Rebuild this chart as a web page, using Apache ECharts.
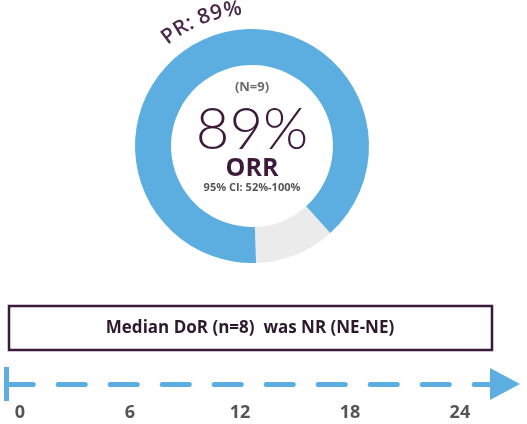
<!DOCTYPE html><html><head><meta charset="utf-8"><script src="https://cdn.jsdelivr.net/npm/echarts@6/dist/echarts.min.js"></script></head><body style="margin:0;background:#fff"><div id="c" style="width:527px;height:424px"></div><script>
var sliceNames=['Not responding','PR'];
var sliceValues=[1,8];
var prLabel='PR: 89%';
var timeTicks=[0,6,12,18,24];
var ch=echarts.init(document.getElementById('c'));
var cx=252,cy=146,R=127;
var font='600 21px "Open Sans"';
var ctx=document.createElement('canvas').getContext('2d');ctx.font=font;
var chars=prLabel.split('');
var total=ctx.measureText(prLabel).width;
var startA=-40*Math.PI/180, span=total/R;
var acc=0,arcChars=[];
chars.forEach(function(c){var w=ctx.measureText(c).width;var a=startA+(acc+w/2)/R;acc+=w;
arcChars.push({type:'text',x:cx+R*Math.sin(a),y:cy-R*Math.cos(a),rotation:-a,style:{text:c,font:font,fill:'#4a2a4a',align:'center',verticalAlign:'bottom'}});});
var P='#3b1a3b',B='#5daee0';
ch.setOption({animation:false,
graphic:arcChars.concat([
{type:'text',x:cx,y:87,style:{text:'(N=9)',font:'bold 13px "Open Sans"',fill:'#6b6b6b',align:'center',verticalAlign:'middle'}},
{type:'text',x:cx,y:130,style:{text:'89%',font:'300 58px Lato',fill:P,align:'center',verticalAlign:'middle'}},
{type:'text',x:cx,y:169,style:{text:'ORR',font:'bold 25px "Open Sans"',fill:P,align:'center',verticalAlign:'middle'}},
{type:'text',x:cx,y:188,style:{text:'95% CI: 52%-100%',font:'bold 11px "Open Sans"',fill:'#555',align:'center',verticalAlign:'middle'}},
{type:'rect',shape:{x:9,y:306,width:483,height:44},style:{fill:'#fff',stroke:P,lineWidth:2.5}},
{type:'text',x:250,y:328,style:{text:'Median DoR (n=8)  was NR (NE-NE)',font:'bold 17px "Open Sans"',fill:'#2e1a2e',align:'center',verticalAlign:'middle'}},
{type:'rect',shape:{x:4,y:367,width:5,height:34},style:{fill:B}}
]),
series:[{type:'pie',center:[cx,cy],radius:[81,117],startAngle:-48,label:{show:false},silent:true,
data:sliceNames.map(function(n,i){return {name:n,value:sliceValues[i],itemStyle:{color:i===0?'#ebebeb':B}};})}],
grid:{left:6.25,right:22,top:383,height:1},
xAxis:{type:'value',min:-0.75,max:26.46,splitLine:{show:false},axisTick:{show:false},
axisLine:{show:true,symbol:['none','triangle'],symbolSize:[32,30],lineStyle:{color:B,width:5,type:[27,25]}},
axisLabel:{customValues:timeTicks,margin:20,color:'#555',fontFamily:'Open Sans',fontWeight:'bold',fontSize:18}},
yAxis:{type:'value',show:false}
});
</script></body></html>
